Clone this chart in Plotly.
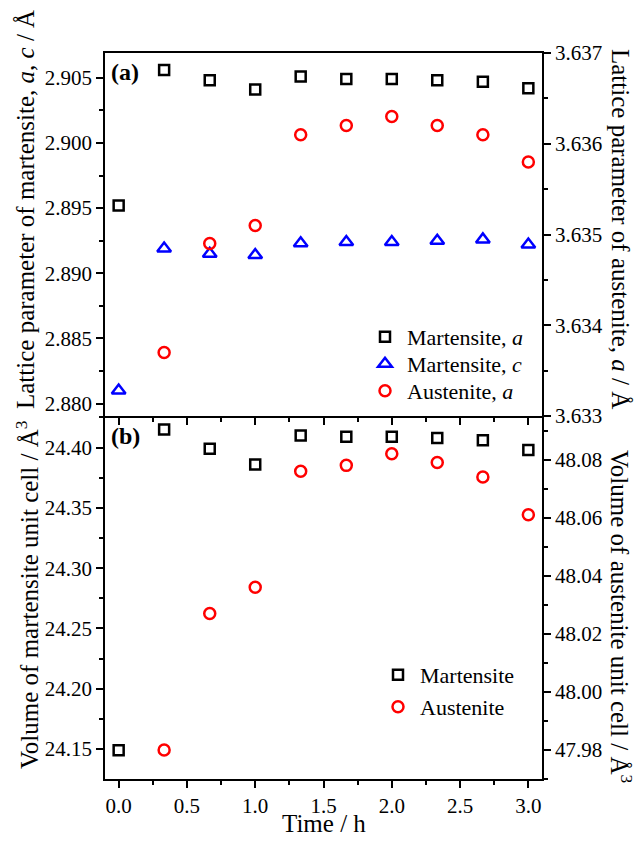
import plotly.graph_objects as go
from plotly.subplots import make_subplots

# ---- data ----
time_h = [0.0, 0.333, 0.667, 1.0, 1.333, 1.667, 2.0, 2.333, 2.667, 3.0]
time_aus = [0.333, 0.667, 1.0, 1.333, 1.667, 2.0, 2.333, 2.667, 3.0]

mart_a = [2.8952, 2.9056, 2.9048, 2.9041, 2.9051, 2.9049, 2.9049, 2.9048, 2.9047, 2.9042]
mart_c = [2.8810, 2.8919, 2.8915, 2.8914, 2.8923, 2.8924, 2.8924, 2.8925, 2.8926, 2.8922]
aust_a = [3.6337, 3.6349, 3.6351, 3.6361, 3.6362, 3.6363, 3.6362, 3.6361, 3.6358]

vol_mart = [24.149, 24.415, 24.399, 24.386, 24.410, 24.409, 24.409, 24.408, 24.406, 24.398]
vol_aust = [47.980, 48.027, 48.036, 48.076, 48.078, 48.082, 48.079, 48.074, 48.061]

FONT = "Liberation Serif"
BLACK, BLUE, RED = "#000000", "#0000FF", "#FF0000"

fig = make_subplots(rows=2, cols=1, shared_xaxes=True, vertical_spacing=0,
                    specs=[[{"secondary_y": True}], [{"secondary_y": True}]])

def mk(symbol, color, size):
    return dict(symbol=symbol, size=size, color="rgba(255,255,255,0)",
                line=dict(color=color, width=2.5))

fig.add_trace(go.Scatter(x=time_h, y=mart_a, mode="markers", name="Martensite, <i>a</i>",
                         marker=mk("square", BLACK, 10), legend="legend", showlegend=True),
              row=1, col=1, secondary_y=False)
fig.add_trace(go.Scatter(x=time_h, y=mart_c, mode="markers", name="Martensite, <i>c</i>",
                         marker=mk("triangle-up", BLUE, 12), legend="legend3", showlegend=True),
              row=1, col=1, secondary_y=False)
fig.add_trace(go.Scatter(x=time_aus, y=aust_a, mode="markers", name="Austenite, <i>a</i>",
                         marker=mk("circle", RED, 11), legend="legend4", showlegend=True),
              row=1, col=1, secondary_y=True)

fig.add_trace(go.Scatter(x=time_h, y=vol_mart, mode="markers", name="Martensite",
                         marker=mk("square", BLACK, 10), legend="legend2", showlegend=True),
              row=2, col=1, secondary_y=False)
fig.add_trace(go.Scatter(x=time_aus, y=vol_aust, mode="markers", name="Austenite",
                         marker=mk("circle", RED, 11), legend="legend5", showlegend=True),
              row=2, col=1, secondary_y=True)

axis_common = dict(showline=True, linecolor="black", linewidth=1.5, ticks="outside",
                   ticklen=7, tickwidth=1.5, tickcolor="black", showgrid=False,
                   zeroline=False, automargin=False,
                   tickfont=dict(family=FONT, size=21, color="black"))

# x axes
fig.update_xaxes(**axis_common, range=[-0.1, 3.1], dtick=0.5, tick0=0, domain=[0, 1],
                 minor=dict(ticks="outside", ticklen=4, dtick=0.25, tickwidth=1.5,
                            tickcolor="black"))
fig.update_xaxes(showticklabels=False, mirror=True, row=1, col=1)
fig.update_xaxes(tickformat=".1f", row=2, col=1)

# top panel y axes
fig.update_yaxes(**axis_common, range=[2.87905, 2.9069], dtick=0.005, tick0=2.88,
                 tickformat=".3f",
                 minor=dict(ticks="outside", ticklen=4, dtick=0.0025, tickwidth=1.5,
                            tickcolor="black"),
                 row=1, col=1, secondary_y=False)
fig.update_yaxes(**axis_common, range=[3.633, 3.637], dtick=0.001, tick0=3.633,
                 tickformat=".3f",
                 minor=dict(ticks="outside", ticklen=4, dtick=0.0005, tickwidth=1.5,
                            tickcolor="black"),
                 row=1, col=1, secondary_y=True)
# bottom panel y axes
fig.update_yaxes(**axis_common, range=[24.1252, 24.4262], dtick=0.05, tick0=24.15,
                 tickformat=".2f",
                 minor=dict(ticks="outside", ticklen=4, dtick=0.025, tickwidth=1.5,
                            tickcolor="black"),
                 row=2, col=1, secondary_y=False)
fig.update_yaxes(**axis_common, range=[47.970, 48.095], dtick=0.02, tick0=47.98,
                 tickformat=".2f",
                 minor=dict(ticks="outside", ticklen=4, dtick=0.01, tickwidth=1.5,
                            tickcolor="black"),
                 row=2, col=1, secondary_y=True)

OFF = 8  # default page body margin
W, H = 644 - OFF, 841 - OFF
PX0, PX1, PY0, PY1 = 105, 542, 53, 779   # plot area in page pixels
PW, PH = PX1 - PX0, PY1 - PY0
ML, MT = PX0 - OFF, PY0 - OFF
MR, MB = W - ML - PW, H - MT - PH

def px(xp):
    return (xp - PX0) / PW

def py(yp):
    return (PY1 - yp) / PH

title_font = dict(family=FONT, size=25, color="black")
annotations = [
    dict(text="Lattice parameter of martensite, <i>a</i>, <i>c</i> / Å", x=px(25), y=py(210),
         textangle=-90),
    dict(text="Lattice parameter of austenite, <i>a</i> / Å", x=px(621), y=py(229),
         textangle=90),
    dict(text="Volume of martensite unit cell / Å<sup>3</sup>", x=px(27), y=py(595),
         textangle=-90),
    dict(text="Volume of austenite unit cell / Å<sup>3</sup>", x=px(621), y=py(616),
         textangle=90),
    dict(text="Time / h", x=px(324), y=py(824), textangle=0),
]
for a in annotations:
    a.update(xref="paper", yref="paper", showarrow=False, font=title_font,
             xanchor="center", yanchor="middle")
annotations += [
    dict(text="<b>(a)</b>", x=px(109), y=py(72), xref="paper", yref="paper",
         showarrow=False, xanchor="left", yanchor="middle",
         font=dict(family=FONT, size=24, color="black")),
    dict(text="<b>(b)</b>", x=px(109), y=py(436), xref="paper", yref="paper",
         showarrow=False, xanchor="left", yanchor="middle",
         font=dict(family=FONT, size=24, color="black")),
]

legend_font = dict(family=FONT, size=22, color="black")

def leg(xp, yp):
    return dict(x=px(xp), y=py(yp), xanchor="left", yanchor="middle",
                bgcolor="rgba(0,0,0,0)", font=legend_font, itemwidth=34,
                borderwidth=0)

fig.update_layout(
    width=W, height=H, showlegend=True,
    margin=dict(l=ML, r=MR, t=MT, b=MB, autoexpand=False),
    paper_bgcolor="white", plot_bgcolor="white",
    font=dict(family=FONT, color="black"),
    annotations=annotations,
    legend=leg(363, 337),
    legend3=leg(363, 364),
    legend4=leg(363, 391),
    legend2=leg(376, 675),
    legend5=leg(376, 707),
)

fig.write_html("out.html")
